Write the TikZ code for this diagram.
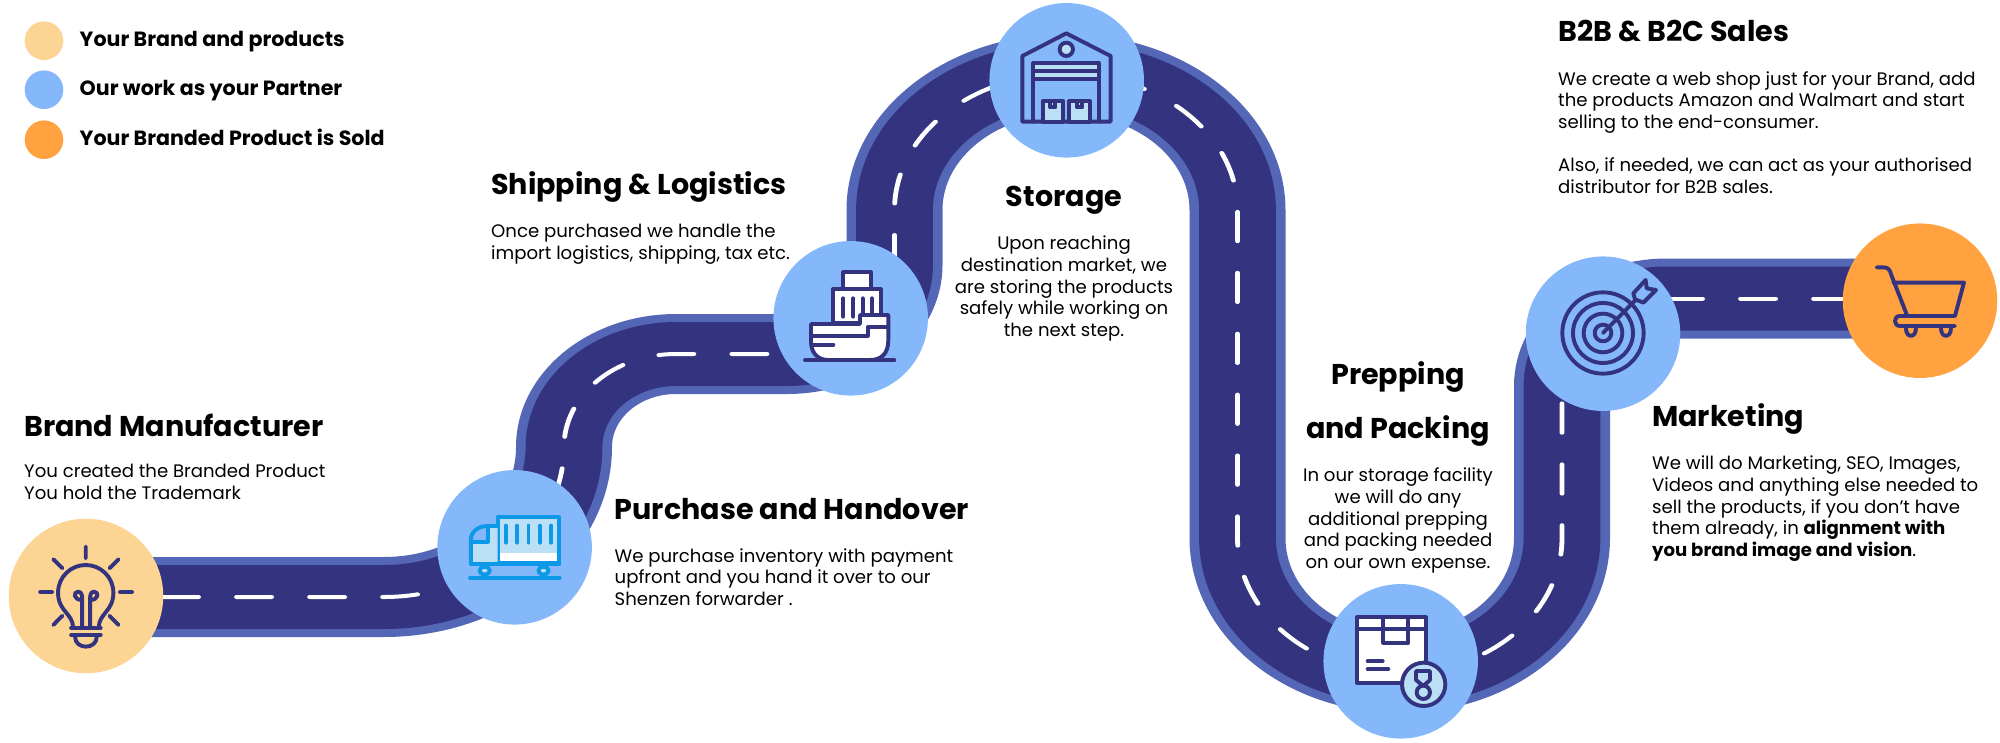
\documentclass[tikz,border=0pt]{standalone}
\usepackage{fontspec}
\setmainfont{Poppins}
\definecolor{roadedge}{HTML}{5467B7}
\definecolor{roaddark}{HTML}{343380}
\definecolor{peach}{HTML}{FCD493}
\definecolor{skyblue}{HTML}{84B8FA}
\definecolor{orangeb}{HTML}{FFA23F}
\definecolor{pale}{HTML}{BBDFF5}
\definecolor{truckblue}{HTML}{0E99E8}
\tikzset{
  stop/.style={circle,inner sep=0pt,minimum size=154.5pt},
  legenddot/.style={circle,inner sep=0pt,minimum size=38.6pt},
  legendtext/.style={anchor=base west,inner sep=0pt,font=\fontsize{20.6}{24}\selectfont\bfseries},
  headw/.style={anchor=base west,inner sep=0pt,font=\fontsize{28.6}{34}\selectfont\bfseries},
  headc/.style={anchor=base,inner sep=0pt,font=\fontsize{28.6}{34}\selectfont\bfseries},
  bodyl/.style={anchor=base west,inner sep=0pt,align=left,font=\fontsize{18.1}{21.7}\selectfont},
  bodyc/.style={anchor=base,inner sep=0pt,align=center,font=\fontsize{18.1}{21.7}\selectfont},
  ico/.style={draw=roaddark,line width=3.9pt,line cap=round,line join=round},
  icotruck/.style={draw=truckblue,line width=3.9pt,line cap=round,line join=round},
  dashline/.style={draw=white,line width=4pt,line cap=round,dash pattern=on 29.3pt off 31.6pt}
}
\begin{document}
\begin{tikzpicture}[x=1pt,y=-1pt]
\path[use as bounding box,fill=white] (0,0) rectangle (2000,742);

% the road (stretched horizontally, pen included)
\begin{scope}[transform canvas={xscale=1.2},x=0.83333pt,y=-1pt]
  \def\roadpath{(86,597) -- (384,597) .. controls (483.4,597) and (564,529.8) .. (564,447)
    .. controls (564,395.6) and (614.1,354) .. (676,354) -- (787,354)
    .. controls (846.4,354) and (894.5,314.2) .. (894.5,265) -- (894.5,210)
    .. controls (894.5,134.9) and (971.3,74) .. (1066,74)
    .. controls (1160.7,74) and (1237.5,134.9) .. (1237.5,210) -- (1237.5,538)
    .. controls (1237.5,612.6) and (1310.3,673) .. (1400,673)
    .. controls (1489.7,673) and (1562,612.6) .. (1562,538) -- (1562,386)
    .. controls (1562,337.7) and (1609,298.5) .. (1667,298.5) -- (1920,298.5)}
  \draw[roadedge,line width=80pt] \roadpath;
  \draw[roaddark,line width=64pt] \roadpath;
  \draw[dashline] (163.4,597) -- (384,597) .. controls (431.7,597) and (477.5,581.1) .. (511.3,553);
  \draw[dashline] (767,354) -- (676,354) .. controls (614.1,354) and (564,395.6) .. (564,447)
     .. controls (564,486.8) and (545.1,524.9) .. (511.3,553);
  \draw[dashline] (894.5,264.3) -- (894.5,210) .. controls (894.5,134.9) and (971.3,74) .. (1066,74);
  \draw[dashline,dash phase=22.6pt] (1066,74)
     .. controls (1160.7,74) and (1237.5,134.9) .. (1237.5,210) -- (1237.5,538)
     .. controls (1237.5,612.6) and (1310.3,673) .. (1400,673);
  \draw[dashline,dash phase=48pt] (1400,673)
     .. controls (1489.7,673) and (1562,612.6) .. (1562,538) -- (1562,386);
  \draw[dashline] (1667.4,298.5) -- (1920,298.5);
\end{scope}

% stops
\node[stop,fill=peach] (bulb) at (86,596) {};
\node[stop,fill=skyblue] (truck) at (514.6,547.3) {};
\node[stop,fill=skyblue] (ship) at (850.7,318.3) {};
\node[stop,fill=skyblue] (store) at (1066.7,80.3) {};
\node[stop,fill=skyblue] (pack) at (1400.7,661.3) {};
\node[stop,fill=skyblue] (target) at (1603,333.7) {};
\node[stop,fill=orangeb] (cart) at (1920,300.7) {};

% legend
\node[legenddot,fill=peach] (l1) at (44,40.7) {};
\node[legenddot,fill=skyblue] (l2) at (44,89.7) {};
\node[legenddot,fill=orangeb] (l3) at (44,139.7) {};
\node[legendtext] (t1) at (79.5,46) {Your Brand and products};
\node[legendtext] (t2) at (79.5,95.3) {Our work as your Partner};
\node[legendtext] (t3) at (79.5,145) {Your Branded Product is Sold};

% bulb icon
\begin{scope}[shift={(0,440)},x=0.395pt,y=-0.3333pt]
  \draw[ico] (217,320) -- (217,355) (135,358) -- (158,385) (300,358) -- (277,385)
     (101,456) -- (133,456) (303,456) -- (335,456) (158,527) -- (135,555) (277,527) -- (300,555);
  \draw[ico] (185,563) .. controls (185,520) and (147,515) .. (147,458)
     .. controls (147,410) and (180,375) .. (217,375)
     .. controls (254,375) and (287,410) .. (287,458)
     .. controls (287,515) and (250,520) .. (250,563);
  \draw[ico] (180,563) -- (255,563) (180,585) -- (255,585);
  \draw[ico] (190,590) .. controls (190,630) and (245,630) .. (245,590);
  \draw[ico] (208,563) -- (208,480) .. controls (185,480) and (185,455) .. (198,455) .. controls (208,455) and (208,470) .. (208,480)
     (228,563) -- (228,480) .. controls (251,480) and (251,455) .. (238,455) .. controls (228,455) and (228,470) .. (228,480);
\end{scope}

% truck icon
\begin{scope}[shift={(0,440)},x=0.395pt,y=-0.3333pt]
  \fill[pale] (1262,233) rectangle (1416,340);
  \fill[white] (1262,340) rectangle (1416,368);
  \draw[icotruck] (1260,231) rectangle (1416,370);
  \foreach \xx in {1280,1309,1338,1367,1396} \draw[icotruck] (\xx,257) -- (\xx,308);
  \fill[pale] (1192,305) -- (1235,305) -- (1235,265) -- (1260,262) -- (1260,370) -- (1192,370) -- cycle;
  \draw[icotruck] (1192,370) -- (1192,300) .. controls (1192,275) and (1210,258) .. (1235,258) -- (1260,258);
  \draw[icotruck] (1192,305) -- (1235,305) -- (1235,262);
  \draw[icotruck] (1192,372) -- (1416,372);
  \draw[icotruck] (1190,413) -- (1417,413);
  \draw[icotruck,fill=pale] (1227,392) ellipse [x radius=13,y radius=12];
  \draw[icotruck,fill=pale] (1376,392) ellipse [x radius=13,y radius=12];
\end{scope}

% ship icon
\begin{scope}[shift={(750,220)},x=0.3333pt,y=-0.3333pt]
  \draw[ico,fill=white] (280,157) rectangle (363,207);
  \draw[ico,fill=white] (250,207) rectangle (392,310);
  \foreach \xx in {280,310,338,366} \draw[ico] (\xx,235) -- (\xx,290);
  \draw[ico,fill=white] (183,312) -- (330,312) -- (330,285) -- (415,285) -- (415,360)
     .. controls (415,400) and (395,420) .. (360,420) -- (235,420)
     .. controls (200,420) and (183,395) .. (183,365) -- cycle;
  \draw[ico] (183,347) -- (353,347) -- (353,322) -- (415,322);
  \draw[ico] (190,374) -- (250,374);
  \draw[ico] (165,421) -- (433,421);
\end{scope}

% warehouse icon
\begin{scope}[shift={(740,0)},x=0.3333pt,y=-0.3333pt]
  \draw[ico] (847,365) -- (847,168) -- (979,100) -- (1112,168) -- (1112,365) -- cycle;
  \draw[ico,fill=pale] (979,148) circle [radius=20pt*0.3333];
  \draw[ico,fill=pale] (880,190) rectangle (1078,237);
  \draw[ico] (880,213) -- (1078,213);
  \draw[ico] (880,237) -- (880,365) (1078,237) -- (1078,365);
  \draw[ico,fill=pale] (908,303) rectangle (970,365);
  \draw[ico,fill=pale] (988,303) rectangle (1050,365);
  \draw[ico] (930,303) -- (930,322) -- (946,322) -- (946,303);
  \draw[ico] (1010,303) -- (1010,322) -- (1027,322) -- (1027,303);
\end{scope}

% parcel icon
\begin{scope}[shift={(1300,560)},x=0.3333pt,y=-0.3333pt]
  \draw[ico,fill=white] (170,172) rectangle (378,368);
  \draw[ico] (170,208) -- (378,208);
  \draw[ico] (250,172) -- (250,248) -- (325,248) -- (325,172);
  \draw[ico] (250,208) -- (285,208);
  \draw[ico] (203,304) -- (248,304) (203,327) -- (265,327);
  \draw[ico,fill=pale] (371,373) circle [radius=65pt*0.3333];
  \draw[ico] (348,333) -- (390,333) -- (390,360) -- (370,378) -- (348,360) -- cycle;
  \draw[ico,fill=pale] (370,397) circle [radius=20pt*0.3333];
\end{scope}

% target icon
\begin{scope}[shift={(1500,210)},x=0.3333pt,y=-0.3333pt]
  \foreach \rr in {122,90,58,25} \draw[ico] (309,369) circle [radius=\rr pt*0.3333];
  \draw[ico] (309,369) -- (405,272);
  \draw[ico] (400,250) -- (437,210) -- (440,235) -- (468,240) -- (430,278) -- (405,268) -- cycle;
\end{scope}

% cart icon
\begin{scope}[shift={(1500,210)},x=0.3333pt,y=-0.3333pt]
  \draw[ico] (1130,172) -- (1150,172) .. controls (1165,172) and (1170,180) .. (1174,195) -- (1222,318);
  \draw[ico] (1180,218) -- (1392,218) -- (1365,318) -- (1200,318)
     .. controls (1180,318) and (1180,348) .. (1200,348) -- (1365,348);
  \draw[ico] (1218,355) .. controls (1218,385) and (1248,385) .. (1248,355);
  \draw[ico] (1323,355) .. controls (1323,385) and (1353,385) .. (1353,355);
\end{scope}

% texts
\node[headw] (h1) at (24,436) {Brand Manufacturer};
\node[bodyl] (b1) at (24,499.5) {You created the Branded Product\\You hold the Trademark};
\node[headw] (h2) at (614.5,519) {Purchase and Handover};
\node[bodyl] (b2) at (614.5,605.5) {We purchase inventory with payment\\upfront and you hand it over to our\\Shenzen forwarder .};
\node[headw] (h3) at (491,194) {Shipping \& Logistics};
\node[bodyl] (b3) at (491,259.5) {Once purchased we handle the\\import logistics, shipping, tax etc.};
\node[headc] (h4) at (1064,206.7) {Storage};
\node[bodyc] (b4) at (1064,336.5) {Upon reaching\\destination market, we\\are storing the products\\safely while working on\\the next step.};
\node[headc] (h5a) at (1398,384) {Prepping};
\node[headc] (h5b) at (1398,438) {and Packing};
\node[bodyc] (b5) at (1398,568.5) {In our storage facility\\we will do any\\additional prepping\\and packing needed\\on our own expense.};
\node[headw] (h6) at (1652,426) {Marketing};
\node[bodyl] (b6) at (1652,556.5) {We will do Marketing, SEO, Images,\\Videos and anything else needed to\\sell the products, if you don't have\\them already, in \textbf{alignment with}\\\textbf{you brand image and vision}.};
\node[headw] (h7) at (1558,41.7) {B2B \& B2C Sales};
\node[bodyl] (b7) at (1558,193.5) {We create a web shop just for your Brand, add\\the products Amazon and Walmart and start\\selling to the end-consumer.\\[21.7pt]Also, if needed, we can act as your authorised\\distributor for B2B sales.};
\end{tikzpicture}
\end{document}
